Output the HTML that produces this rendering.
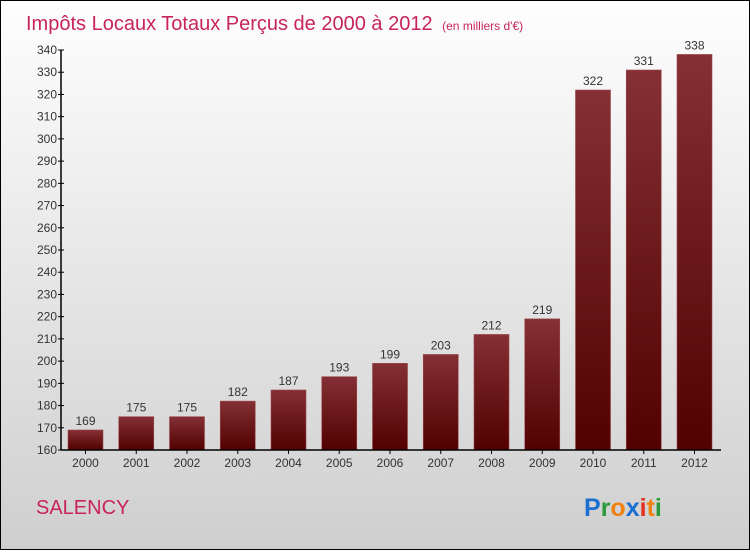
<!DOCTYPE html>
<html><head><meta charset="utf-8"><style>
html,body{margin:0;padding:0;}
body{width:750px;height:550px;overflow:hidden;font-family:"Liberation Sans",sans-serif;}
#wrap{position:relative;width:748px;height:548px;border:1px solid #000;background:linear-gradient(#fefefe,#cfcfcf);}
</style></head><body>
<div id="wrap">
<svg id="chart" width="748" height="548">
<defs><linearGradient id="bg" x1="0" y1="0" x2="0" y2="1"><stop offset="0" stop-color="#843035"/><stop offset="1" stop-color="#520000"/></linearGradient></defs>
<text x="25" y="29" font-size="20" fill="#c8245c">Impôts Locaux Totaux Perçus de 2000 à 2012 <tspan font-size="12" dx="4">(en milliers d'€)</tspan></text>
<text x="35" y="513" font-size="20" fill="#c8245c">SALENCY</text>
<text x="583" y="515" font-size="25" font-weight="bold"><tspan fill="#1a6fd0">P</tspan><tspan fill="#2a9a3a">r</tspan><tspan fill="#f08010">o</tspan><tspan fill="#1a6fd0">x</tspan><tspan fill="#e03020">i</tspan><tspan fill="#f08010">t</tspan><tspan fill="#2a9a3a">i</tspan></text>
<g id="plot"></g>
</svg>
</div>
<script>
const years=["2000","2001","2002","2003","2004","2005","2006","2007","2008","2009","2010","2011","2012"];
const values=[169,175,175,182,187,193,199,203,212,219,322,331,338];
const yTicks=[160,170,180,190,200,210,220,230,240,250,260,270,280,290,300,310,320,330,340];
const NS="http://www.w3.org/2000/svg";
const g=document.getElementById('plot');
const y=v=>449-(v-160)*400/180;
const x=i=>84.5+i*50.75;
function mk(t,a,txt){const e=document.createElementNS(NS,t);for(const k in a)e.setAttribute(k,a[k]);if(txt!==undefined)e.textContent=txt;g.appendChild(e);return e;}
years.forEach((yr,i)=>{
 const r=mk('rect',{x:x(i)-17.5,y:y(values[i]),width:35,height:449-y(values[i]),fill:'url(#bg)',stroke:'#9a4a4e','stroke-width':0.6});
 
 
 const l=mk('text',{x:x(i),y:y(values[i])-5,'font-size':12,fill:'#333','text-anchor':'middle'},values[i]);
 
 
 const t=mk('text',{x:x(i),y:466,'font-size':12,fill:'#333','text-anchor':'middle'},yr);
 
 
 mk('line',{x1:x(i),x2:x(i),y1:449,y2:453,stroke:'#000'});
});
yTicks.forEach(v=>{
 mk('line',{x1:57,x2:63,y1:y(v),y2:y(v),stroke:'#000'});
 const t=mk('text',{x:56,y:y(v)+4,'font-size':12,fill:'#333','text-anchor':'end'},v);
 
 
});
const ya=mk('line',{x1:60,x2:60,y1:y(340),y2:449.5,stroke:'#000','stroke-width':1.5});


const xa=mk('line',{x1:60,x2:720,y1:449,y2:449,stroke:'#000','stroke-width':1.5});


</script>
</body></html>
